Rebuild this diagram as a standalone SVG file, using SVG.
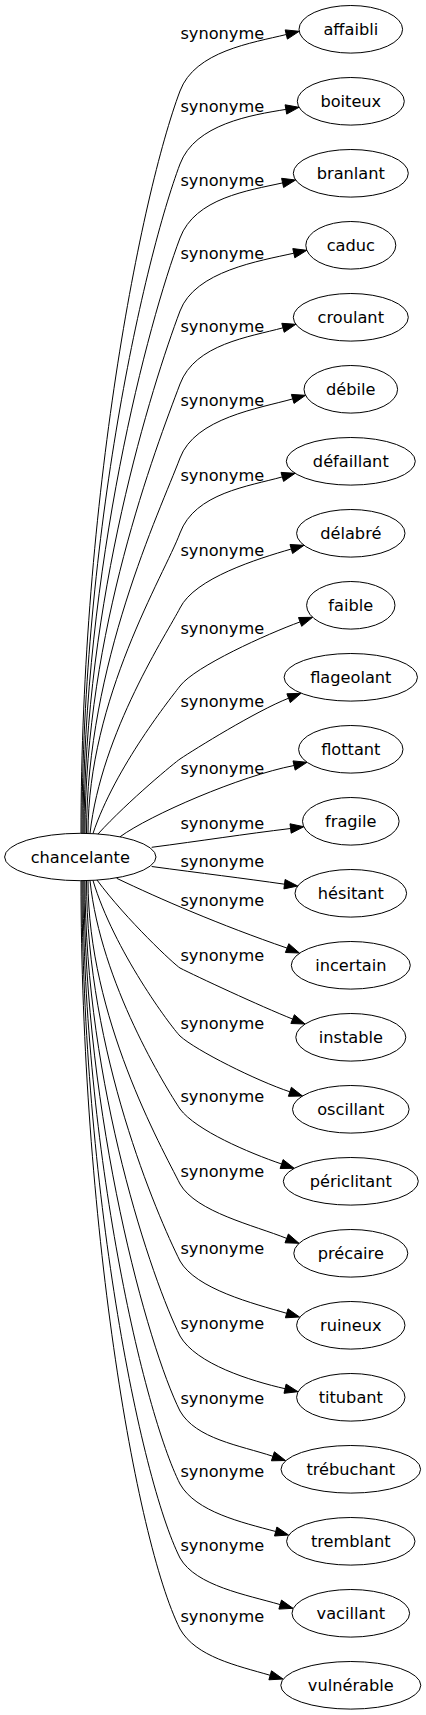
<svg xmlns="http://www.w3.org/2000/svg" width="426" height="1715" viewBox="0 0 426 1715">
<style>
.n ellipse{fill:none;stroke:#000;stroke-width:1}
.n text{font-family:"DejaVu Sans",sans-serif;font-size:16.2px;text-anchor:middle;fill:#000}
.e path{fill:none;stroke:#000;stroke-width:1}
.e polygon{fill:#000;stroke:#000;stroke-width:1}
.e text{font-family:"DejaVu Sans",sans-serif;font-size:16.2px;text-anchor:middle;fill:#000}
</style>
<rect width="426" height="1715" fill="#fff"/>
<g id="edges" class="e">
<path d="M81,833.5 C81,499.4 140.9,195.2 180,91 C195,51 252.3,42.9 286.3,34.5"/><polygon points="299.2,31.3 287.4,39.1 285.2,29.9"/><text x="222.3" y="39">synonyme</text>
<path d="M82,833.5 C82,532.2 144.7,258 180,164 C195,124 251.4,115 285.9,109.4"/><polygon points="299,107.3 286.7,114.1 285.1,104.8"/><text x="222.3" y="112">synonyme</text>
<path d="M83,833.5 C83,565.5 148.6,321.6 180,238 C195,198 248.4,190.5 282.6,182.9"/><polygon points="295.6,180 283.6,187.5 281.6,178.3"/><text x="222.3" y="186">synonyme</text>
<path d="M84,833.5 C84,598.4 152.5,384.4 180,311 C195,271 259.7,260.9 293.8,253.2"/><polygon points="306.8,250.3 294.8,257.8 292.8,248.6"/><text x="222.3" y="259">synonyme</text>
<path d="M85,833.5 C85,631.2 156.3,447.1 180,384 C195,344 249.3,337 283,327.8"/><polygon points="295.8,324.3 284.2,332.3 281.8,323.3"/><text x="222.3" y="332">synonyme</text>
<path d="M86.5,833.5 C86.5,664.5 160.2,510.7 180,458 C195,418 259,408.4 292.7,398.9"/><polygon points="305.5,395.3 294,403.4 291.4,394.4"/><text x="222.3" y="406">synonyme</text>
<path d="M88,833.5 C88,698.3 164.2,575.2 180,533 C195,493 248.6,486.3 282.3,476.9"/><polygon points="295.1,473.3 283.6,481.4 281,472.4"/><text x="222.3" y="481">synonyme</text>
<path d="M90,833.5 C101.2,732 168.1,631.7 180,608 C195,578 257.7,558.8 291.3,549"/><polygon points="304,545.3 292.6,553.5 290,544.5"/><text x="222.3" y="556">synonyme</text>
<path d="M93,833.5 C115.1,767.1 172.2,696.2 180,686 C195,666.4 267.2,633.9 300.1,621.9"/><polygon points="312.6,617.3 301.7,626.3 298.5,617.5"/><text x="222.3" y="634">synonyme</text>
<path d="M98,834 C128.8,800.3 176,761.6 180,759 C195,749 256,711.1 288.6,698.2"/><polygon points="301,693.3 290.3,702.6 286.9,693.8"/><text x="222.3" y="707">synonyme</text>
<path d="M120,836.8 C150,815 240,776 294.1,765.5"/><polygon points="307,762.3 295.2,770.1 293,760.9"/><text x="222.3" y="774">synonyme</text>
<path d="M151.7,847.3 C200,841 245,834 290.6,828.5"/><polygon points="303.8,826.7 291.2,833.2 290,823.8"/><text x="222.3" y="829">synonyme</text>
<path d="M151.7,866.5 C200,873 245,878.5 284.5,884.2"/><polygon points="297.7,886 283.9,888.9 285.1,879.5"/><text x="222.3" y="867">synonyme</text>
<path d="M116.7,878.3 C160,899 220,925 287.1,948.1"/><polygon points="299.4,953 285.4,952.5 288.8,943.7"/><text x="222.3" y="906">synonyme</text>
<path d="M97,880 C126.3,919.6 174.7,964.9 180,968 C196,976.2 260.2,1006.1 292.7,1019.1"/><polygon points="305,1024 290.9,1023.5 294.4,1014.7"/><text x="222.3" y="961">synonyme</text>
<path d="M93,880.5 C114,950.5 170.7,1026.4 180,1036 C196,1050.5 256.7,1080.8 289.9,1091.8"/><polygon points="302.5,1096 288.4,1096.3 291.4,1087.3"/><text x="222.3" y="1029">synonyme</text>
<path d="M90,880.5 C100.7,983.3 166.3,1088.1 180,1109 C196,1130.3 248.5,1152.7 281.6,1164"/><polygon points="294.2,1168.3 280.1,1168.5 283.1,1159.6"/><text x="222.3" y="1102">synonyme</text>
<path d="M88,880.5 C88,1017.1 161.8,1147.6 180,1184 C196,1212 254.2,1225.4 286.7,1238.4"/><polygon points="299,1243.3 285,1242.8 288.4,1234"/><text x="222.3" y="1177">synonyme</text>
<path d="M86.5,880.5 C86.5,1051.7 157.2,1215.3 180,1261 C196,1289 253.1,1303.5 286.7,1313.3"/><polygon points="299.5,1317 285.4,1317.8 288,1308.8"/><text x="222.3" y="1254">synonyme</text>
<path d="M85,880.5 C85,1085.5 152.7,1281.3 180,1336 C196,1364 250.9,1380.9 285,1388.7"/><polygon points="298,1391.7 284,1393.3 286.1,1384.1"/><text x="222.3" y="1329">synonyme</text>
<path d="M84,880.5 C84,1119.2 148.2,1347.3 180,1411 C196,1439 239.7,1445.3 272.9,1456.3"/><polygon points="285.5,1460.5 271.4,1460.8 274.4,1451.8"/><text x="222.3" y="1404">synonyme</text>
<path d="M83,880.5 C83,1152.1 143.8,1411.6 180,1484 C196,1512 241.9,1522.4 275.7,1531.5"/><polygon points="288.5,1535 274.5,1536 276.9,1527"/><text x="222.3" y="1477">synonyme</text>
<path d="M82,880.5 C82,1185.4 139.4,1476.7 180,1558 C196,1586 246.6,1594.8 280.2,1604.6"/><polygon points="293,1608.3 278.9,1609.1 281.5,1600.1"/><text x="222.3" y="1551">synonyme</text>
<path d="M81,880.5 C81,1217.3 135.1,1539.2 180,1629 C196,1657 236.6,1665.5 270.2,1675.3"/><polygon points="283,1679 268.9,1679.8 271.5,1670.8"/><text x="222.3" y="1622">synonyme</text>
</g>
<g id="chancelante" class="n"><ellipse cx="80.3" cy="857" rx="75.7" ry="23.7"/><text x="80.3" y="862.8">chancelante</text></g>
<g id="affaibli" class="n"><ellipse cx="350.8" cy="29.3" rx="51.8" ry="23.8"/><text x="350.8" y="35.1">affaibli</text></g>
<g id="boiteux" class="n"><ellipse cx="350.8" cy="101.3" rx="53.5" ry="23.8"/><text x="350.8" y="107.1">boiteux</text></g>
<g id="branlant" class="n"><ellipse cx="350.8" cy="173.3" rx="57.5" ry="23.8"/><text x="350.8" y="179.1">branlant</text></g>
<g id="caduc" class="n"><ellipse cx="350.8" cy="245.3" rx="45" ry="23.8"/><text x="350.8" y="251.1">caduc</text></g>
<g id="croulant" class="n"><ellipse cx="350.8" cy="317.3" rx="57.5" ry="23.8"/><text x="350.8" y="323.1">croulant</text></g>
<g id="debile" class="n"><ellipse cx="350.8" cy="389.3" rx="46.8" ry="23.8"/><text x="350.8" y="395.1">débile</text></g>
<g id="defaillant" class="n"><ellipse cx="350.8" cy="461.3" rx="64.5" ry="23.8"/><text x="350.8" y="467.1">défaillant</text></g>
<g id="delabre" class="n"><ellipse cx="350.8" cy="533.3" rx="54.2" ry="23.8"/><text x="350.8" y="539.1">délabré</text></g>
<g id="faible" class="n"><ellipse cx="350.8" cy="605.3" rx="44.2" ry="23.8"/><text x="350.8" y="611.1">faible</text></g>
<g id="flageolant" class="n"><ellipse cx="350.8" cy="677.3" rx="66.7" ry="23.8"/><text x="350.8" y="683.1">flageolant</text></g>
<g id="flottant" class="n"><ellipse cx="350.8" cy="749.3" rx="52.2" ry="23.8"/><text x="350.8" y="755.1">flottant</text></g>
<g id="fragile" class="n"><ellipse cx="350.8" cy="821.3" rx="48.3" ry="23.8"/><text x="350.8" y="827.1">fragile</text></g>
<g id="hesitant" class="n"><ellipse cx="350.8" cy="893.3" rx="55.8" ry="23.8"/><text x="350.8" y="899.1">hésitant</text></g>
<g id="incertain" class="n"><ellipse cx="350.8" cy="965.3" rx="59.5" ry="23.8"/><text x="350.8" y="971.1">incertain</text></g>
<g id="instable" class="n"><ellipse cx="350.8" cy="1037.3" rx="55" ry="23.8"/><text x="350.8" y="1043.1">instable</text></g>
<g id="oscillant" class="n"><ellipse cx="350.8" cy="1109.3" rx="58.3" ry="23.8"/><text x="350.8" y="1115.1">oscillant</text></g>
<g id="periclitant" class="n"><ellipse cx="350.8" cy="1181.3" rx="67.5" ry="23.8"/><text x="350.8" y="1187.1">périclitant</text></g>
<g id="precaire" class="n"><ellipse cx="350.8" cy="1253.3" rx="57" ry="23.8"/><text x="350.8" y="1259.1">précaire</text></g>
<g id="ruineux" class="n"><ellipse cx="350.8" cy="1325.3" rx="54.2" ry="23.8"/><text x="350.8" y="1331.1">ruineux</text></g>
<g id="titubant" class="n"><ellipse cx="350.8" cy="1397.3" rx="54.2" ry="23.8"/><text x="350.8" y="1403.1">titubant</text></g>
<g id="trebuchant" class="n"><ellipse cx="350.8" cy="1469.3" rx="69.8" ry="23.8"/><text x="350.8" y="1475.1">trébuchant</text></g>
<g id="tremblant" class="n"><ellipse cx="350.8" cy="1541.3" rx="64.2" ry="23.8"/><text x="350.8" y="1547.1">tremblant</text></g>
<g id="vacillant" class="n"><ellipse cx="350.8" cy="1613.3" rx="58.8" ry="23.8"/><text x="350.8" y="1619.1">vacillant</text></g>
<g id="vulnerable" class="n"><ellipse cx="350.8" cy="1685.3" rx="70" ry="23.8"/><text x="350.8" y="1691.1">vulnérable</text></g>
</svg>
